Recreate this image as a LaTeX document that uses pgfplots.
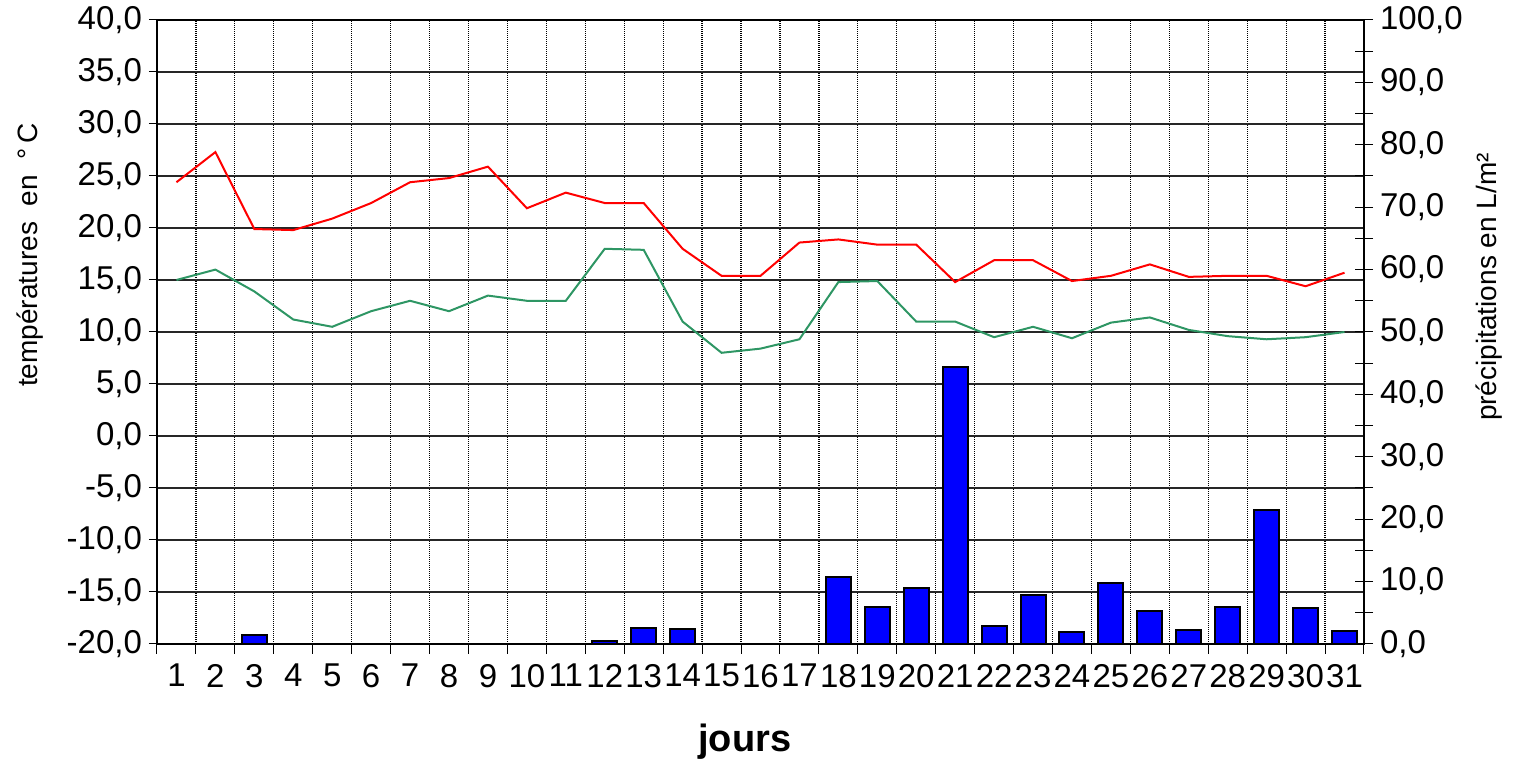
\documentclass[border=0pt]{standalone}
\usepackage{fontspec}
\setmainfont{Liberation Sans}
\usepackage{pgfplots}
\pgfplotsset{compat=1.18}
\usepackage{pgfplotstable}

\definecolor{tmaxc}{RGB}{255,0,0}
\definecolor{tminc}{RGB}{46,150,100}
\definecolor{pluiec}{RGB}{0,0,255}

\pgfplotstableread{
jour tmax tmin
1 24.4 15.0
2 27.3 16.0
3 19.9 13.9
4 19.8 11.2
5 20.9 10.5
6 22.4 12.0
7 24.4 13.0
8 24.8 12.0
9 25.9 13.5
10 21.9 13.0
11 23.4 13.0
12 22.4 18.0
13 22.4 17.9
14 18.0 11.0
15 15.4 8.0
16 15.4 8.4
17 18.6 9.3
18 18.9 14.8
19 18.4 14.9
20 18.4 11.0
21 14.8 11.0
22 16.9 9.5
23 16.9 10.5
24 14.9 9.4
25 15.4 10.9
26 16.5 11.4
27 15.3 10.2
28 15.4 9.6
29 15.4 9.3
30 14.4 9.5
31 15.7 10.0
}\temps

\pgfplotstableread{
jour p
3 1.5
12 0.4
13 2.6
14 2.4
18 10.8
19 5.9
20 8.9
21 44.4
22 2.9
23 7.9
24 1.9
25 9.8
26 5.3
27 2.2
28 5.9
29 21.4
30 5.7
31 2.1
}\pluie

\begin{document}
\begin{tikzpicture}
\path[use as bounding box] (-78.5pt,-59.5pt) rectangle (680pt,322pt);
\begin{axis}[
  at={(0pt,0pt)}, anchor=south west,
  scale only axis, width=603.5pt, height=312pt,
  xmin=0.5, xmax=31.5, ymin=-20, ymax=40,
  /pgf/number format/assume math mode=true,
  xtick={1,...,31},
  minor xtick={0.5,1.5,...,31.5},
  ytick={-20,-15,...,40},
  yticklabels={{-20,0},{-15,0},{-10,0},{-5,0},{0,0},{5,0},{10,0},{15,0},{20,0},{25,0},{30,0},{35,0},{40,0}},
  xtick pos=bottom, ytick pos=left,
  tick align=outside,
  major tick length=4pt,
  minor tick length=5pt,
  major x tick style={draw=none},
  ymajorgrids=true, xminorgrids=true, xmajorgrids=false,
  major grid style={black!85, line width=0.6pt},
  minor grid style={black, line width=0.6pt, dash pattern=on 0.5pt off 0.5pt},
  axis line style={line width=1pt},
  tick style={black, line width=0.5pt},
  ticklabel style={font=\fontsize{16.5}{19}\selectfont},
  xticklabel style={yshift=-2.5pt},
  xlabel={\textbf{jours}},
  ylabel={températures\ \ en\ \ °\,C},
  every axis y label/.style={at={(axis description cs:-0.105,0.623)}, rotate=90, anchor=center, font=\fontsize{14}{17}\selectfont},
  every axis x label/.style={at={(axis description cs:0.487,-0.157)}, anchor=center, font=\fontsize{19}{23}\selectfont},
]
\addplot[draw=tmaxc, line width=1pt, mark=none] table[x=jour, y=tmax]{\temps};
\addplot[draw=tminc, line width=1pt, mark=none] table[x=jour, y=tmin]{\temps};
\end{axis}
\begin{axis}[
  at={(0pt,0pt)}, anchor=south west,
  scale only axis, width=603.5pt, height=312pt,
  xmin=0.5, xmax=31.5, ymin=0, ymax=100,
  axis x line=none,
  axis y line*=right,
  ytick={0,10,...,100},
  minor ytick={5,15,...,95},
  yticklabels={{0,0},{10,0},{20,0},{30,0},{40,0},{50,0},{60,0},{70,0},{80,0},{90,0},{100,0}},
  tick align=center,
  major tick length=9pt,
  minor tick length=9pt,
  axis line style={line width=1pt},
  tick style={black, line width=0.5pt},
  ticklabel style={font=\fontsize{16.5}{19}\selectfont},
  ylabel={précipitations en L/m²},
  every axis y label/.style={at={(axis description cs:1.104,0.572)}, rotate=90, anchor=center, font=\fontsize{14}{17}\selectfont},
]
\addplot[ybar, bar width=12.5pt, fill=pluiec, draw=black, line width=1pt] table[x=jour, y=p]{\pluie};
\end{axis}
\end{tikzpicture}
\end{document}
